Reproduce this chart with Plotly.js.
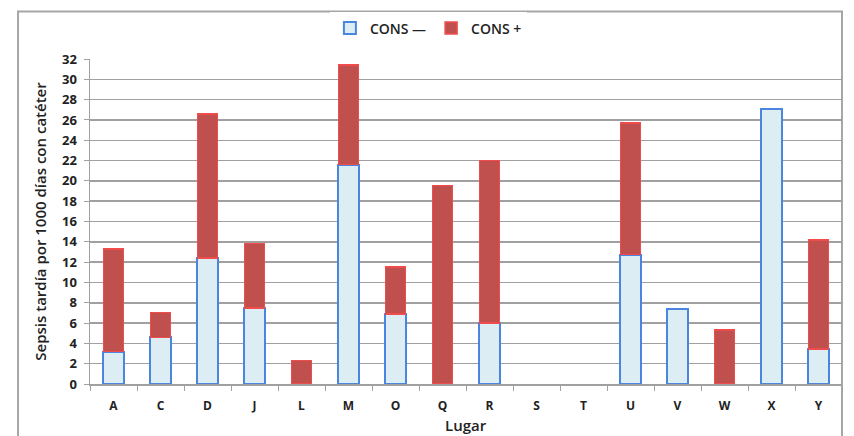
<!DOCTYPE html>
<html><head><meta charset="utf-8">
<script src="https://cdn.plot.ly/plotly-3.0.1.min.js"></script>
<style>html,body{margin:0;padding:0;background:#fff}#chart{width:854px;height:436px}</style>
</head><body><div id="chart"></div>
<script>
const categories = ["A","C","D","J","L","M","O","Q","R","S","T","U","V","W","X","Y"];
const consMinus = [3.2, 4.6, 12.4, 7.5, null, 21.6, 6.9, null, 6.0, null, null, 12.75, 7.35, null, 27.05, 3.45];
const consPlus  = [10.1, 2.45, 14.2, 6.35, 2.3, 9.8, 4.6, 19.55, 16.0, null, null, 12.95, null, 5.3, null, 10.75];
const yTicks = [0,2,4,6,8,10,12,14,16,18,20,22,24,26,28,30,32];
const xTitle = "Lugar";

const fam = "Open Sans, Liberation Sans, Arial, sans-serif";

const traces = [
  {type: "bar", name: "CONS —", x: categories, y: consMinus,
   marker: {color: "#dcedf3", line: {color: "#4a86e0", width: 2}}},
  {type: "bar", name: "CONS +", x: categories, y: consPlus,
   marker: {color: "#c0504d", line: {color: "#f04c4c", width: 1.5}}}
];

const layout = {
  width: 854, height: 436,
  margin: {l: 90, r: 12, t: 56, b: 52},
  paper_bgcolor: "#fff", plot_bgcolor: "#fff",
  barmode: "stack", bargap: 0.57,
  font: {family: fam, size: 12, color: "#222"},
  showlegend: true,
  legend: {orientation: "h", x: 0.45, xanchor: "center", y: 1.094, yanchor: "middle",
           font: {family: fam, size: 14, color: "#222", weight: 600},
           traceorder: "normal"},
  xaxis: {type: "category", showgrid: false, showline: true, linecolor: "#a0a0a0", linewidth: 1.5,
          ticks: "outside", ticklen: 5, tickcolor: "#a0a0a0", tickson: "boundaries",
          ticklabelstandoff: 10,
          tickfont: {family: fam, size: 12, color: "#222", weight: "bold"}},
  yaxis: {range: [0, 32], tickvals: yTicks, showgrid: true, gridcolor: "#a0a0a0", gridwidth: 1.5,
          showline: true, linecolor: "#a0a0a0", linewidth: 1.5, ticks: "outside", ticklen: 5, tickcolor: "#a0a0a0",
          zeroline: false, ticklabelstandoff: 4,
          tickfont: {family: fam, size: 13, color: "#222", weight: "bold"},
          title: {text: "Sepsis tardía por 1000 días con catéter", standoff: 12,
                  font: {family: fam, size: 15, color: "#222", weight: 600}}},
  annotations: [{text: xTitle, xref: "paper", yref: "paper", x: 0.5, y: -0.125, xanchor: "center", yanchor: "middle",
                 showarrow: false, font: {family: fam, size: 15, color: "#222", weight: 600}}],
  shapes: [{type: "rect", xref: "paper", yref: "paper", x0: -0.0957, x1: 1.0, y0: -0.18, y1: 1.146,
            line: {color: "#a6a6a6", width: 2}, fillcolor: "rgba(0,0,0,0)", layer: "below"}]
};

Plotly.newPlot("chart", traces, layout, {displayModeBar: false, staticPlot: true});
</script></body></html>
